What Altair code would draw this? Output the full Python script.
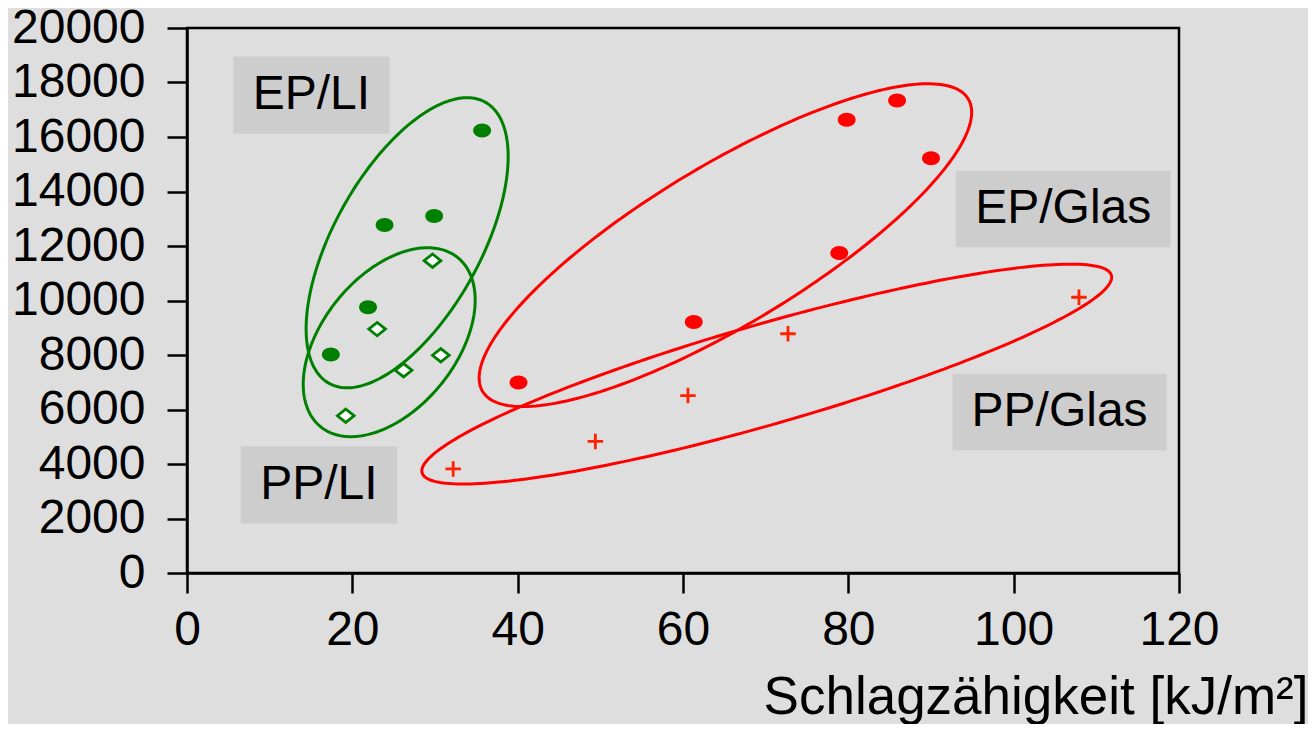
import altair as alt
import numpy as np
import pandas as pd

# --- data ---
ep_li_x = [17.4, 21.9, 23.9, 29.9, 35.7]
ep_li_y = [8020, 9750, 12770, 13100, 16240]
pp_li_x = [19.2, 23.0, 26.2, 29.7, 30.7]
pp_li_y = [5770, 8950, 7440, 11460, 7990]
ep_glas_x = [40.1, 61.3, 78.9, 79.8, 85.9, 90.0]
ep_glas_y = [6990, 9210, 11740, 16630, 17340, 15220]
pp_glas_x = [32.2, 49.4, 60.6, 72.7, 107.9]
pp_glas_y = [3820, 4830, 6510, 8780, 10120]

# ellipses: centre and two conjugate semi-axis vectors (data units)
ell_names = ["EP/LI", "PP/LI", "EP/Glas", "PP/Glas"]
ell_cx = [26.63, 24.46, 65.13, 70.13]
ell_cy = [12120, 8470, 12030, 7300]
ell_ux = [9.44, 8.29, 29.37, 41.69]
ell_uy = [5160, 3105, 5369, 3626]
ell_vx = [-7.76, -6.28, -4.99, -1.67]
ell_vy = [1303, 1541, 2503, 1769]

# label boxes (data units)
lab_names = ["EP/LI", "PP/LI", "EP/Glas", "PP/Glas"]
lab_x1 = [5.6, 6.5, 93.0, 92.6]
lab_x2 = [24.5, 25.4, 119.0, 118.5]
lab_y1 = [18950, 4650, 14760, 7310]
lab_y2 = [16130, 1820, 11950, 4500]

x_ticks = [0, 20, 40, 60, 80, 100, 120]
y_ticks = list(range(0, 20001, 2000))
x_title = "Schlagzähigkeit [kJ/m²]"

groups = ["EP/LI", "PP/LI", "EP/Glas", "PP/Glas"]
group_colors = ["#008000", "#008000", "#ff0000", "#ff0000"]

FONT = "Liberation Sans"

pts = pd.concat([
    pd.DataFrame({"x": ep_li_x, "y": ep_li_y, "g": "EP/LI"}),
    pd.DataFrame({"x": pp_li_x, "y": pp_li_y, "g": "PP/LI"}),
    pd.DataFrame({"x": ep_glas_x, "y": ep_glas_y, "g": "EP/Glas"}),
    pd.DataFrame({"x": pp_glas_x, "y": pp_glas_y, "g": "PP/Glas"}),
], ignore_index=True)

t = np.linspace(0, 2 * np.pi, 241)
rows = []
for n, cx, cy, ux, uy, vx, vy in zip(ell_names, ell_cx, ell_cy, ell_ux, ell_uy, ell_vx, ell_vy):
    for i, tt in enumerate(t):
        rows.append({"g": n, "i": i,
                     "x": cx + ux * np.cos(tt) + vx * np.sin(tt),
                     "y": cy + uy * np.cos(tt) + vy * np.sin(tt)})
ell = pd.DataFrame(rows)

labs = pd.DataFrame({"name": lab_names, "x1": lab_x1, "x2": lab_x2,
                     "y1": lab_y1, "y2": lab_y2})
labs["tx"] = (labs["x1"] + labs["x2"]) / 2
labs["ty"] = (labs["y1"] + labs["y2"]) / 2

xs = alt.Scale(domain=[0, 120], nice=False, zero=False)
ys = alt.Scale(domain=[0, 20000], nice=False, zero=False)
cs = alt.Scale(domain=groups, range=group_colors)

xax = alt.Axis(values=x_ticks, title=x_title, grid=False, tickSize=20, tickWidth=2.5,
               domainWidth=2.5, domainColor="black", tickColor="black",
               labelFontSize=48, labelFont=FONT, labelColor="black", labelPadding=13,
               labelFlush=False, labelOverlap=False, labelBound=False,
               titleFont=FONT, titleFontSize=53, titleFontWeight="normal", titleColor="black",
               titleX=1121, titleY=140, titleAlign="right", titleBaseline="alphabetic")
yax = alt.Axis(values=y_ticks, title=None, grid=False, tickSize=20, tickWidth=2.5,
               domainWidth=2.5, domainColor="black", tickColor="black", format="d",
               labelFontSize=48, labelFont=FONT, labelColor="black", labelPadding=22,
               labelOverlap=False, labelBound=False, labelFlush=False)

base_x = alt.X("x:Q", scale=xs, axis=xax)
base_y = alt.Y("y:Q", scale=ys, axis=yax)

boxes = alt.Chart(labs).mark_rect(color="#cdcdcd").encode(
    x=alt.X("x1:Q", scale=xs, axis=xax), x2="x2:Q",
    y=alt.Y("y1:Q", scale=ys, axis=yax), y2="y2:Q")
texts = alt.Chart(labs).mark_text(font=FONT, fontSize=48, color="black",
                                  align="center", baseline="middle").encode(
    x=alt.X("tx:Q", scale=xs), y=alt.Y("ty:Q", scale=ys), text="name:N")

ellipses = alt.Chart(ell).mark_line(strokeWidth=3).encode(
    x=base_x, y=base_y, detail="g:N", order="i:Q",
    color=alt.Color("g:N", scale=cs, legend=None))

oval = "M-1,0A1,0.78,0,1,1,1,0A1,0.78,0,1,1,-1,0Z"
filled = alt.Chart(pts).transform_filter(
    alt.FieldOneOfPredicate(field="g", oneOf=["EP/LI", "EP/Glas"])
).mark_point(shape=oval, filled=True, size=320, opacity=1, strokeWidth=0).encode(
    x=base_x, y=base_y, color=alt.Color("g:N", scale=cs, legend=None))

diamond = "M-1,0L0,-0.8L1,0L0,0.8Z"
diamonds = alt.Chart(pts).transform_filter(
    alt.FieldEqualPredicate(field="g", equal="PP/LI")
).mark_point(shape=diamond, filled=False, fill="white", fillOpacity=1, stroke="#008000",
             strokeWidth=2.8, size=280, opacity=1).encode(x=base_x, y=base_y)

plus = "M-1,0L1,0M0,-1L0,1"
pluses = alt.Chart(pts).transform_filter(
    alt.FieldEqualPredicate(field="g", equal="PP/Glas")
).mark_point(shape=plus, filled=False, stroke="#ff2200", strokeWidth=2.8,
             size=240, opacity=1).encode(x=base_x, y=base_y)

chart = alt.layer(boxes, texts, ellipses, filled, diamonds, pluses).properties(
    width=992, height=545,
    autosize=alt.AutoSizeParams(type="none"),
    padding={"left": 179, "top": 20, "right": 129, "bottom": 151},
    background="#dedede",
).configure_view(stroke="black", strokeWidth=2.5)

chart.save("out.html", embed_options={"renderer": "svg", "actions": False})
